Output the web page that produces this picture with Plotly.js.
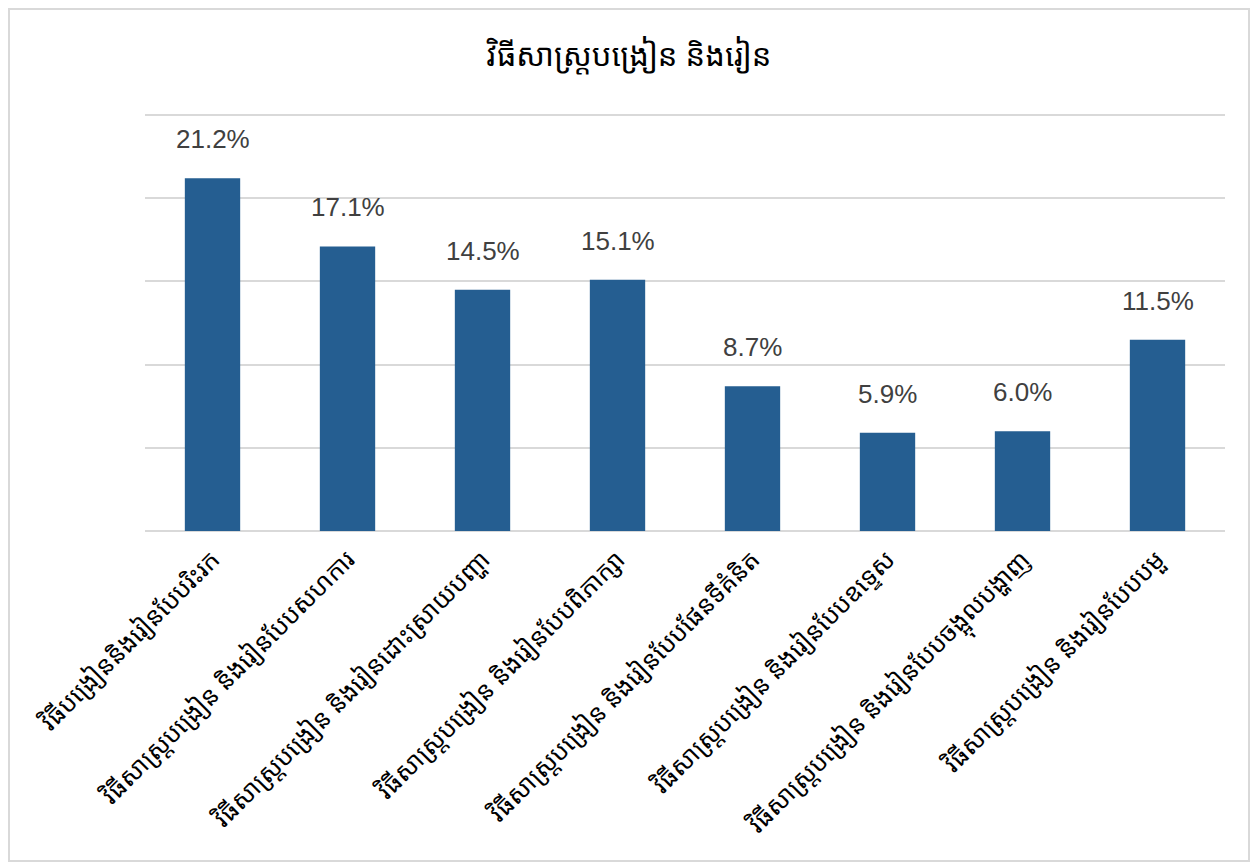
<!DOCTYPE html>
<html>
<head>
<meta charset="utf-8">
<script src="https://cdn.plot.ly/plotly-3.0.1.min.js"></script>
<style>
  html, body { margin: 0; padding: 0; background: #fff; }
  #chart { position: absolute; left: 8px; top: 8px; width: 1238px; height: 850px; border: 2px solid #d9d9d9; }
</style>
</head>
<body>
<div id="chart"></div>
<script>
const chartTitle = "វិធីសាស្ត្របង្រៀន និងរៀន";
const categories = [
  "វិធីបង្រៀននិងរៀនបែបរិះរក",
  "វិធីសាស្ត្របង្រៀន និងរៀនបែបសហការ",
  "វិធីសាស្ត្របង្រៀន និងរៀនដោះស្រាយបញ្ហា",
  "វិធីសាស្ត្របង្រៀន និងរៀនបែបពិភាក្សា",
  "វិធីសាស្ត្របង្រៀន និងរៀនបែបផែនទីគំនិត",
  "វិធីសាស្ត្របង្រៀន និងរៀនបែបឧទ្ទេស",
  "វិធីសាស្ត្របង្រៀន និងរៀនបែបចង្អុលបង្ហាញ",
  "វិធីសាស្ត្របង្រៀន និងរៀនបែបបមួ"
];
const values = [21.2, 17.1, 14.5, 15.1, 8.7, 5.9, 6.0, 11.5];
const valueLabels = ["21.2%", "17.1%", "14.5%", "15.1%", "8.7%", "5.9%", "6.0%", "11.5%"];
const gridValues = [0, 5, 10, 15, 20, 25];

const khmerFont = "'Noto Sans Khmer', 'Khmer OS', 'Khmer OS System', 'Noto Sans', 'DejaVu Sans', sans-serif";

const trace = {
  type: "bar",
  x: categories,
  y: values,
  marker: { color: "#255e91" },
  hoverinfo: "x+y"
};

const annotations = categories.map((c, i) => ({
  x: c, y: values[i], xref: "x", yref: "y",
  text: valueLabels[i], showarrow: false,
  yanchor: "bottom", yshift: 22,
  font: { family: "'Liberation Sans', Arial, sans-serif", size: 26, color: "#404040" }
}));

const layout = {
  width: 1238, height: 850,
  margin: { l: 135, r: 23, t: 100, b: 329 },
  paper_bgcolor: "#ffffff", plot_bgcolor: "#ffffff",
  title: {
    text: chartTitle,
    x: 0.5, xanchor: "center",
    y: 1 - 45 / 850, yref: "container", yanchor: "middle",
    font: { family: khmerFont, size: 31, color: "#000000", weight: 400 }
  },
  bargap: 0.59,
  showlegend: false,
  xaxis: {
    type: "category",
    tickangle: -45,
    tickfont: { family: khmerFont, size: 25, color: "#000000", weight: 400 },
    ticklabelstandoff: 8,
    showgrid: false, showline: false, ticks: "", zeroline: false
  },
  yaxis: {
    range: [0, 25.3],
    tickvals: gridValues,
    showticklabels: false,
    showgrid: true, gridcolor: "#d9d9d9", gridwidth: 2,
    zeroline: true, zerolinecolor: "#d9d9d9", zerolinewidth: 2,
    showline: false, ticks: ""
  },
  annotations: annotations
};

Plotly.newPlot("chart", [trace], layout, { displayModeBar: false, staticPlot: true });
</script>
</body>
</html>
